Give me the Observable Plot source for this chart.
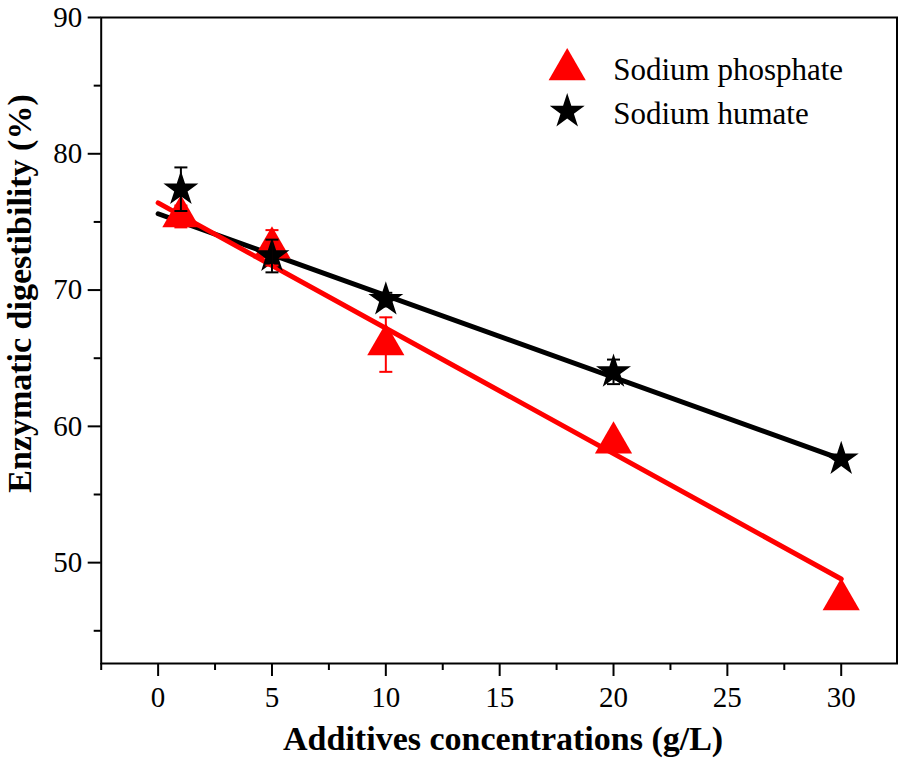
<!DOCTYPE html>
<html>
<head>
<meta charset="utf-8">
<script src="https://cdn.jsdelivr.net/npm/d3@7"></script>
<script src="https://cdn.jsdelivr.net/npm/@observablehq/plot@0.6"></script>
<style>
  html, body { margin: 0; padding: 0; background: #fff; }
  #chart svg { display: block; }
</style>
</head>
<body>
<div id="chart"></div>
<script>
// ---- data ----
const concentrations = [1, 5, 10, 20, 30];
const phosphateMean = [75.4, 73.1, 66.0, 58.8, 47.3];
const phosphateErr  = [0.8, 1.3, 2.0, 0.4, 0.3];
const humateMean    = [77.4, 72.5, 69.3, 64.0, 57.6];
const humateErr     = [1.6, 1.2, 0.5, 0.9, 0.3];
const fitX          = [0, 30];
const phosphateFit  = [76.4, 48.8];
const humateFit     = [75.6, 57.6];
const seriesNames   = ["Sodium phosphate", "Sodium humate"];
const xTicks = [0, 5, 10, 15, 20, 25, 30];
const xMinor = [-2.5, 2.5, 7.5, 12.5, 17.5, 22.5, 27.5];
const yTicks = [50, 60, 70, 80, 90];
const yMinor = [45, 55, 65, 75, 85];

const RED = "#ff0000", BLACK = "#000000";
const mk = (means, errs, name) => concentrations.map((x, i) => ({x, y: means[i], e: errs[i], name}));
const phosphate = mk(phosphateMean, phosphateErr, seriesNames[0]);
const humate = mk(humateMean, humateErr, seriesNames[1]);
const fitP = fitX.map((x, i) => ({x, y: phosphateFit[i]}));
const fitH = fitX.map((x, i) => ({x, y: humateFit[i]}));

const cap = { draw(ctx) { ctx.moveTo(-6.5, 0); ctx.lineTo(6.5, 0); } };
const errMarks = (data, color) => [
  Plot.ruleX(data, {x: "x", y1: d => d.y - d.e, y2: d => d.y + d.e, stroke: color, strokeWidth: 2}),
  Plot.dot(data, {x: "x", y: d => d.y + d.e, symbol: cap, stroke: color, strokeWidth: 2, r: 3}),
  Plot.dot(data, {x: "x", y: d => d.y - d.e, symbol: cap, stroke: color, strokeWidth: 2, r: 3})
];

const serif = "'Liberation Serif', 'Times New Roman', serif";
const legend = [
  {name: seriesNames[0], symbol: "triangle", color: RED, r: 13.8, dy: 52, tdy: 52.4},
  {name: seriesNames[1], symbol: "star", color: BLACK, r: 11, dy: 94, tdy: 96.4}
];

const chart = Plot.plot({
  width: 898,
  height: 762,
  marginLeft: 100.7,
  marginRight: 1.5,
  marginTop: 17,
  marginBottom: 99,
  style: {fontFamily: serif, color: "black", background: "white"},
  x: {domain: [-2.5, 32.45]},
  y: {domain: [42.6, 90]},
  marks: [
    Plot.axisX({ticks: xTicks, tickSize: 13, tickPadding: 10, fontSize: 29, strokeWidth: 2, label: null, tickFormat: d => String(d)}),
    Plot.axisX({ticks: xMinor, tickSize: 7, strokeWidth: 2, label: null, tickFormat: () => ""}),
    Plot.axisY({ticks: yTicks, tickSize: 13, tickPadding: 6, fontSize: 29, strokeWidth: 2, label: null, tickFormat: d => String(d)}),
    Plot.axisY({ticks: yMinor, tickSize: 7, strokeWidth: 2, label: null, tickFormat: () => ""}),
    Plot.frame({stroke: BLACK, strokeWidth: 2}),
    Plot.line(fitH, {x: "x", y: "y", stroke: BLACK, strokeWidth: 5}),
    Plot.line(fitP, {x: "x", y: "y", stroke: RED, strokeWidth: 5}),
    Plot.dot(phosphate, {x: "x", y: "y", symbol: "triangle", fill: RED, r: 13.8}),
    Plot.dot(humate, {x: "x", y: "y", symbol: "star", fill: BLACK, r: 11}),
    ...errMarks(phosphate, RED),
    ...errMarks(humate, BLACK),
    // legend
    ...legend.map(l => Plot.dot([l], {frameAnchor: "top-left", dx: 466, dy: l.dy, symbol: l.symbol, fill: l.color, r: l.r})),
    ...legend.map(l => Plot.text([l], {frameAnchor: "top-left", dx: 512, dy: l.tdy, text: "name", textAnchor: "start", lineAnchor: "middle", fontSize: 31, fill: BLACK})),
    // axis titles
    Plot.text(["Additives concentrations (g/L)"], {frameAnchor: "bottom", dx: 4, dy: 76, text: d => d, fontSize: 34, fontWeight: "bold", textAnchor: "middle", lineAnchor: "middle", fill: BLACK}),
    Plot.text(["Enzymatic digestibility (%)"], {frameAnchor: "left", dx: -81, dy: -47, rotate: -90, text: d => d, fontSize: 34, fontWeight: "bold", textAnchor: "middle", lineAnchor: "middle", fill: BLACK})
  ]
});
document.getElementById("chart").append(chart);
</script>
</body>
</html>
